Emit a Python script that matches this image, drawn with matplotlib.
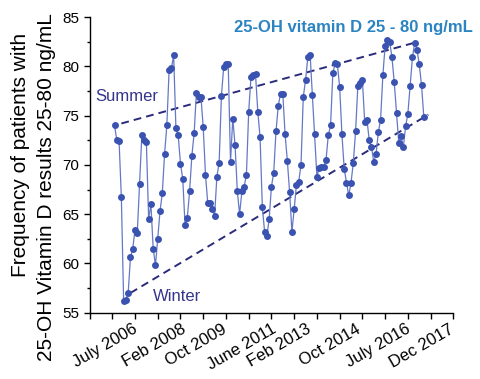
import numpy as np
import matplotlib.pyplot as plt
import matplotlib.transforms as mtransforms

plt.rcParams['font.family'] = ['Liberation Sans', 'DejaVu Sans']

# monthly frequency (%) of 25-OH vitamin D results within 25-80 ng/mL
freq = [
    74.0, 72.5, 72.4, 66.7, 56.2, 56.3, 57.0, 60.6, 61.5, 63.4,
    63.1, 68.1, 73.0, 72.5, 72.3, 64.5, 66.0, 61.5, 59.8, 62.5,
    65.3, 67.1, 71.1, 74.0, 79.6, 79.8, 81.1, 73.7, 73.0, 70.1,
    68.6, 63.9, 64.6, 67.3, 70.9, 73.2, 77.3, 76.9, 76.9, 73.8,
    69.0, 66.1, 66.1, 65.5, 64.8, 68.8, 70.2, 77.0, 79.9, 80.2,
    80.2, 70.3, 74.7, 72.0, 67.3, 65.0, 67.3, 67.8, 69.0, 75.4,
    78.9, 79.1, 79.2, 75.4, 72.8, 65.7, 63.2, 62.8, 64.5, 67.8,
    69.2, 73.4, 76.0, 77.2, 77.2, 73.1, 70.4, 67.2, 63.2, 65.5,
    68.0, 68.3, 70.0, 76.9, 78.6, 80.9, 81.2, 77.1, 73.1, 68.8,
    69.7, 69.8, 69.8, 70.5, 73.0, 74.0, 79.3, 80.3, 80.2, 77.9,
    73.1, 69.6, 68.2, 66.9, 68.2, 70.2, 73.4, 78.0, 78.3, 78.6,
    74.4, 74.6, 72.5, 71.8, 70.3, 71.1, 73.3, 74.6, 79.1, 82.1,
    82.7, 82.5, 80.9, 78.4, 75.3, 72.2, 72.9, 71.8, 73.9, 75.2,
    78.0, 80.9, 82.4, 81.7, 80.2, 78.1, 74.9,
]
month = np.arange(1, len(freq) + 1)

# trend lines drawn by hand over peaks / troughs
summer_x = [4, 133]
summer_y = [74.2, 82.4]
winter_x = [8, 139]
winter_y = [57.0, 75.1]

date_labels = ['July 2006', 'Feb 2008', 'Oct 2009', 'June 2011',
               'Feb 2013', 'Oct 2014', 'July 2016', 'Dec 2017']
date_pos = [9, 30, 48, 70, 85, 107, 129, 148]

fig = plt.figure(figsize=(4.8, 3.79), dpi=100)
ax = fig.add_axes([0.1865, 0.175, 0.758, 0.780])

ax.plot(month, freq, color='#6478c6', linewidth=0.9, zorder=2)
ax.plot(month, freq, 'o', color='#3a52b0', markersize=5, markeredgewidth=0, zorder=3)

ax.plot(summer_x, summer_y, color='#2b2b7c', linewidth=1.4, dashes=(4, 2.6), zorder=1)
ax.plot(winter_x, winter_y, color='#2b2b7c', linewidth=1.4, dashes=(4, 2.6), zorder=1)

ax.text(-7.5, 76.9, 'Summer', color='#35358a', fontsize=12, va='center', ha='left')
ax.text(18, 56.6, 'Winter', color='#35358a', fontsize=12, va='center', ha='left')
ax.text(1.054, 0.966, '25-OH vitamin D 25 - 80 ng/mL', transform=ax.transAxes,
        color='#2b84c2', fontsize=12, fontweight='bold', ha='right', va='center')

ax.set_xlim(-10, 150)
ax.set_ylim(55, 85)
ax.set_xticks(np.arange(-10, 151, 10))
ax.set_xticklabels([])
ax.set_yticks(np.arange(55, 86, 5))
ax.set_yticks(np.arange(55, 86, 2.5), minor=True)
ax.tick_params(axis='both', which='major', direction='out', length=4, width=1,
               labelsize=11)
ax.tick_params(axis='y', which='minor', direction='out', length=2.5, width=1)

# rotated date labels, right end anchored just under the axis
trans = mtransforms.blended_transform_factory(ax.transData, ax.transAxes)
for pos, lab in zip(date_pos, date_labels):
    ax.text(pos, -0.03, lab, transform=trans, rotation=30, ha='right', va='top',
            rotation_mode='anchor', fontsize=12)

for side in ['top', 'right']:
    ax.spines[side].set_visible(False)
for side in ['left', 'bottom']:
    ax.spines[side].set_linewidth(1.0)

fig.text(21 / 480, 1 - 155 / 379, 'Frequency of patients with', rotation=90,
         fontsize=15, ha='center', va='center')
fig.text(47 / 480, 1 - 187 / 379, '25-OH Vitamin D results 25-80 ng/mL', rotation=90,
         fontsize=15, ha='center', va='center')

fig.savefig('out.png', dpi=100)
